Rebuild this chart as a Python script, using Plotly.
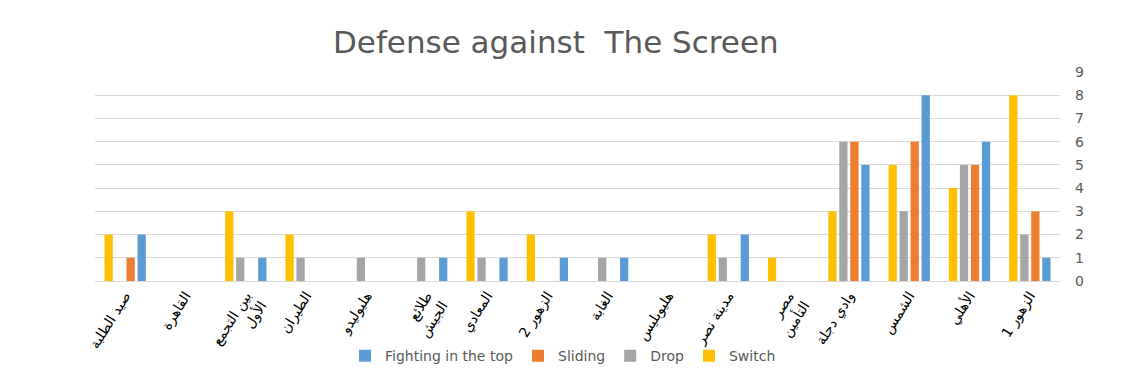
import plotly.graph_objects as go

# Categories in data order (first category is drawn at the right, axis reversed)
categories = ["الزهور 1", "الأهلي", "الشمس", "وادي دجلة", "مصر التأمين", "مدينة نصر",
              "هليوبليس", "الغابة", "الزهور 2", "المعادي", "طلائع الجيش", "هليوليدو",
              "الطيران", "بين التجمع الأول", "القاهرة", "صيد الطلبة"]
# Tick labels as shown (long names wrapped on two lines)
tick_labels = ["الزهور 1", "الأهلي", "الشمس", "وادي دجلة", "مصر<br>التأمين", "مدينة نصر",
               "هليوبليس", "الغابة", "الزهور 2", "المعادي", "طلائع<br>الجيش", "هليوليدو",
               "الطيران", "بين التجمع<br>الأول", "القاهرة", "صيد الطلبة"]

fighting = [1, 6, 8, 5, 0, 2, 0, 1, 1, 1, 1, 0, 0, 1, 0, 2]
sliding  = [3, 5, 6, 6, 0, 0, 0, 0, 0, 0, 0, 0, 0, 0, 0, 1]
drop     = [2, 5, 3, 6, 0, 1, 0, 1, 0, 1, 1, 1, 1, 1, 0, 0]
switch   = [8, 4, 5, 3, 1, 2, 0, 0, 2, 3, 0, 0, 2, 3, 0, 2]

series_names = ["Fighting in the top", "Sliding", "Drop", "Switch"]
series_values = [fighting, sliding, drop, switch]
colors = ["#5B9BD5", "#ED7D31", "#A5A5A5", "#FFC000"]

y_ticks = list(range(0, 10))

fig = go.Figure()
for name, vals, col in zip(series_names, series_values, colors):
    fig.add_trace(go.Bar(x=categories, y=vals, name=name, marker_color=col,
                         marker_line_width=0))

fig.update_layout(
    width=1118, height=362,
    barmode="group", bargap=0.27, bargroupgap=0.25,
    paper_bgcolor="white", plot_bgcolor="white",
    margin=dict(l=87, r=66, t=64, b=89, autoexpand=False),
    title=dict(text="Defense against  The Screen", x=0.49, xanchor="center",
               y=0.905, yanchor="middle",
               font=dict(family="DejaVu Sans, Noto Sans, sans-serif", size=31, color="#595959")),
    legend=dict(orientation="h", x=0.485, xanchor="center", y=-0.36, yanchor="middle",
                font=dict(family="DejaVu Sans, Noto Sans, sans-serif", size=14, color="#595959"),
                itemwidth=30, traceorder="normal", bgcolor="rgba(0,0,0,0)"),
    font=dict(family="DejaVu Sans, Noto Sans, sans-serif"),
)
fig.update_xaxes(autorange="reversed", tickangle=-58, showgrid=False, automargin=False,
                 showline=True, linecolor="#d9d9d9", ticks="",
                 tickmode="array", tickvals=categories, ticktext=tick_labels,
                 tickfont=dict(size=14, color="#000000", family="DejaVu Sans, Noto Sans"))
fig.update_yaxes(side="right", range=[0, 9], tickvals=y_ticks, showgrid=True, automargin=False,
                 gridcolor="#d9d9d9", gridwidth=1, zeroline=False,
                 tickfont=dict(size=14, color="#595959", family="DejaVu Sans, Noto Sans"),
                 ticklabelstandoff=14)

fig.write_html("out.html")
